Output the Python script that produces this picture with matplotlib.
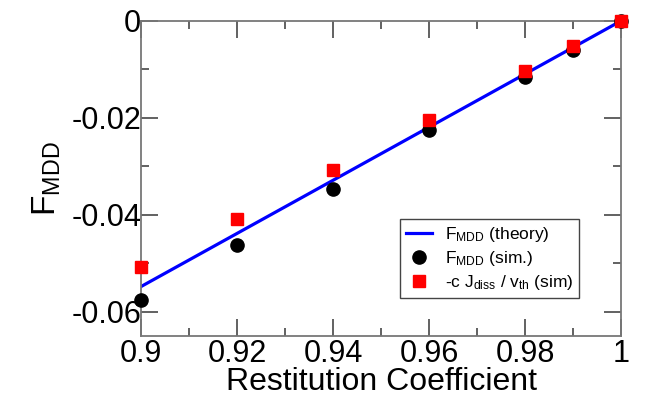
import matplotlib
matplotlib.use("Agg")
import matplotlib.pyplot as plt
from matplotlib.ticker import MultipleLocator, FuncFormatter

plt.rcParams['font.family'] = ['Liberation Sans', 'DejaVu Sans']
plt.rcParams['mathtext.fontset'] = 'custom'
plt.rcParams['mathtext.rm'] = 'Liberation Sans'
plt.rcParams['mathtext.it'] = 'Liberation Sans'

# data
e_theory = [0.9, 1.0]
f_theory = [-0.0548, 0.0]

e_sim = [0.9, 0.92, 0.94, 0.96, 0.98, 0.99, 1.0]
f_sim = [-0.0575, -0.0462, -0.0346, -0.0225, -0.0115, -0.0060, 0.0]
j_sim = [-0.0508, -0.0408, -0.0307, -0.0204, -0.0103, -0.0052, 0.0]

fig = plt.figure(figsize=(6.47, 3.93), dpi=100)
ax = fig.add_axes([0.218, 0.145, 0.742, 0.802])

ax.plot(e_theory, f_theory, color='#0000ff', lw=2.3, label=r'F$_{\rm MDD}$ (theory)', zorder=2)
ax.plot(e_sim, f_sim, 'o', color='black', ms=9.5, ls='none', label=r'F$_{\rm MDD}$ (sim.)',
        zorder=3, clip_on=False)
ax.plot(e_sim, j_sim, 's', color='#ff0000', ms=8.5, ls='none',
        label=r'-c J$_{\rm diss}$ / v$_{\rm th}$ (sim)', zorder=4, clip_on=False)

ax.set_xlim(0.9, 1.0)
ax.set_ylim(-0.065, 0.0)
ax.xaxis.set_major_locator(MultipleLocator(0.02))
ax.xaxis.set_minor_locator(MultipleLocator(0.01))
ax.yaxis.set_major_locator(MultipleLocator(0.02))
ax.yaxis.set_minor_locator(MultipleLocator(0.01))

def fmt(v, pos):
    s = ('%.2f' % v).rstrip('0').rstrip('.')
    if s in ('-0', ''):
        s = '0'
    return s

ax.xaxis.set_major_formatter(FuncFormatter(fmt))
ax.yaxis.set_major_formatter(FuncFormatter(fmt))

for sp in ax.spines.values():
    sp.set_color('#777777')
    sp.set_linewidth(1.3)
ax.tick_params(which='both', direction='in', top=True, right=True, color='#555555', width=1.3)
ax.tick_params(which='major', length=12, labelsize=22)
ax.tick_params(axis='x', which='major', pad=2)
ax.tick_params(axis='y', which='major', pad=0)
ax.tick_params(which='minor', length=6)

ax.set_xlabel('Restitution Coefficient', fontsize=23, labelpad=-1)
ax.set_ylabel(r'F$_{\rm MDD}$', fontsize=24, labelpad=6)

leg = ax.legend(loc='lower right', bbox_to_anchor=(0.9125, 0.12), borderaxespad=0,
                fontsize=12.5, fancybox=False, edgecolor='#444444', framealpha=1,
                handlelength=1.5, handletextpad=0.7, labelspacing=0.3, borderpad=0.35)
leg.get_frame().set_linewidth(1.0)

fig.savefig('out.png', dpi=100)
